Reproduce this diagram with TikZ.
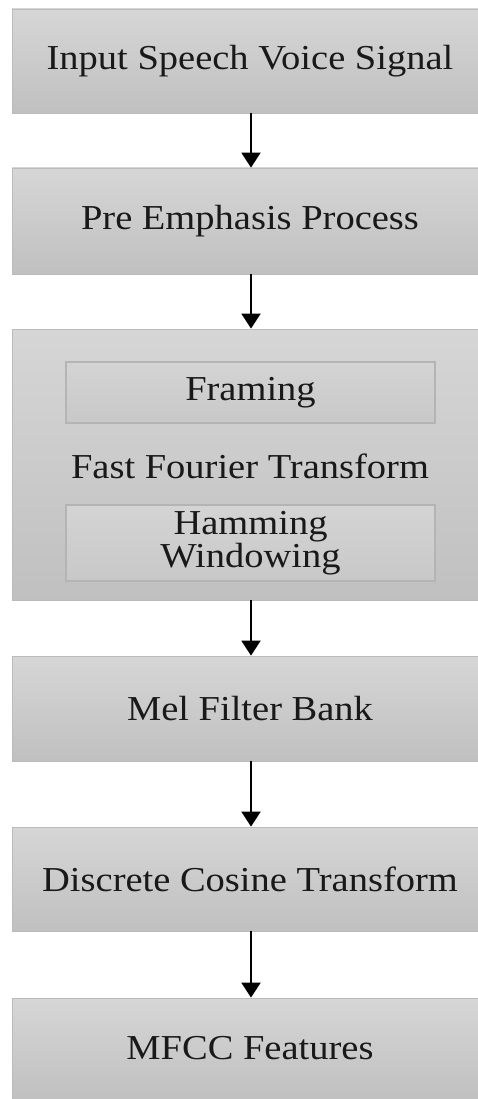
\documentclass[tikz,border=0pt]{standalone}
\usepackage{fontspec}
\setmainfont{Liberation Serif}[FakeStretch=1.1]
\usetikzlibrary{arrows.meta}
\definecolor{boxtop}{HTML}{D6D6D6}
\definecolor{boxbot}{HTML}{C0C0C0}
\definecolor{boxline}{HTML}{BBBBBB}
\definecolor{innertop}{HTML}{D4D4D4}
\definecolor{innerbot}{HTML}{C8C8C8}
\definecolor{innerline}{HTML}{B4B4B4}
\tikzset{
  stagebox/.style={rectangle, draw=boxline, line width=0.8pt, top color=boxtop, bottom color=boxbot,
    minimum width=466pt, inner sep=0pt, font=\fontsize{35}{38}\selectfont, text=black!90,
    execute at begin node={\hspace*{10pt}}},
  innerbox/.style={rectangle, draw=innerline, line width=1.2pt, top color=innertop, bottom color=innerbot,
    minimum width=369pt, inner sep=0pt, font=\fontsize{35}{33}\selectfont, text=black!90, align=center},
  flowarrow/.style={line width=2pt, -{Triangle[width=19pt,length=15pt]}}
}
\begin{document}
\begin{tikzpicture}[x=1pt,y=-1pt]
\useasboundingbox (0,0) rectangle (478,1099);
\fill[white] (0,0) rectangle (478,1099);
\node[stagebox, minimum height=104pt] (b1) at (245,61) {Input Speech Voice Signal};
\node[stagebox, minimum height=106pt] (b2) at (245,221) {Pre Emphasis Process};
\node[stagebox, minimum height=271pt] (b3) at (245,464.5) {};
\node[innerbox, minimum height=61pt] (fr) at (250.5,392.5) {Framing};
\node[font=\fontsize{35}{38}\selectfont, text=black!90] (fft) at (250,466) {Fast Fourier Transform};
\node[innerbox, minimum height=76pt] (hw) at (250.5,543) {Hamming\\Windowing};
\node[stagebox, minimum height=105pt] (b4) at (245,708.5) {Mel Filter Bank};
\node[stagebox, minimum height=104pt] (b5) at (245,879) {Discrete Cosine Transform};
\node[stagebox, minimum height=101pt] (b6) at (245,1048.5) {MFCC Features};
\coordinate (ax) at (251,0);
\draw[flowarrow] (b1.south -| ax) -- (b2.north -| ax);
\draw[flowarrow] (b2.south -| ax) -- (b3.north -| ax);
\draw[flowarrow] (b3.south -| ax) -- (b4.north -| ax);
\draw[flowarrow] (b4.south -| ax) -- (b5.north -| ax);
\draw[flowarrow] (b5.south -| ax) -- (b6.north -| ax);
\end{tikzpicture}
\end{document}
